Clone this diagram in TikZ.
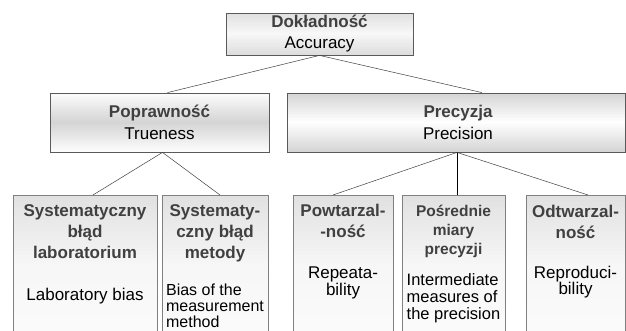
\documentclass[tikz,border=0pt]{standalone}
\usepackage{fontspec}
\setmainfont{Liberation Sans}
\usepackage{tikz}
\usetikzlibrary{calc}
\usetikzlibrary{positioning}

\definecolor{headgray}{HTML}{404040}
\definecolor{edgegray}{HTML}{5A5A5A}
\definecolor{shadegray}{HTML}{D4D4D4}

% vertical gradient in strips: gray amount at top, middle, bottom
\tikzset{
  grad/.style n args={3}{path picture={
    \foreach \k in {0,...,39}{
      \pgfmathsetmacro\ta{\k/40}
      \pgfmathsetmacro\tb{(\k+1.2)/40}
      \pgfmathsetmacro\tm{(\k+0.5)/40}
      \pgfmathsetmacro\pct{\tm<0.5 ? #1+(#2-#1)*2*\tm : #2+(#3-#2)*(2*\tm-1)}
      \fill[shadegray!\pct!white]
        ($(path picture bounding box.north west)!\ta!(path picture bounding box.south west)$)
        rectangle ($(path picture bounding box.north east)!\tb!(path picture bounding box.south east)$);
    }}},
  topbox/.style={rectangle, draw=edgegray, line width=0.8pt, grad={75}{15}{80}},
  midbox/.style={rectangle, draw=edgegray, line width=0.8pt, grad={5}{100}{5}},
  widebox/.style={rectangle, draw=edgegray, line width=0.8pt, grad={100}{0}{100}},
  lowbox/.style={rectangle, draw=gray, line width=0.6pt, grad={70}{20}{10}, anchor=north, minimum height=140pt},
  head/.style={align=center, font=\fontsize{17}{21}\selectfont\bfseries, text=headgray, inner sep=0pt, anchor=north},
  body/.style={align=center, font=\fontsize{17}{16.5}\selectfont, inner sep=0pt, anchor=north},
  link/.style={draw=headgray, line width=0.5pt}
}

\begin{document}
\begin{tikzpicture}[x=1pt, y=-1pt]
\clip (0,0) rectangle (626,331);

\node (Acc) at (319.5,34) [topbox, minimum width=187pt, minimum height=42pt, align=center, inner sep=0pt, font=\fontsize{17}{21}\selectfont]
  {\textbf{\color{headgray}Dokładność}\\Accuracy};

\node (Tru) at (159.5,122.5) [midbox, minimum width=219pt, minimum height=59pt, align=center, inner sep=0pt, font=\fontsize{17}{22}\selectfont]
  {\textbf{\color{headgray}Poprawność}\\Trueness};
\node (Pre) at (456,122.5) [widebox, minimum width=338pt, minimum height=59pt, inner sep=0pt] {};
\node (PreT) at (458,122.5) [align=center, inner sep=0pt, font=\fontsize{17}{22}\selectfont]
  {\textbf{\color{headgray}Precyzja}\\Precision};

% lower row
\node (Lab) at (85,195) [lowbox, minimum width=144pt] {};
\node (Met) at (215,195) [lowbox, minimum width=106pt] {};
\node (Rep) at (343,195) [lowbox, minimum width=100pt] {};
\node (Int) at (453.5,195) [lowbox, minimum width=103pt] {};
\node (Rpr) at (575.5,195) [lowbox, minimum width=99pt] {};

\node (LabH) [head, below=9pt of Lab.north] {Systematyczny\\błąd\\laboratorium};
\node (LabB) [body, below=30pt of LabH.south] {Laboratory bias};

\node (MetH) [head, below=9pt of Met.north] {Systematy-\\czny błąd\\metody};
\node (MetB) [body, align=left, font=\fontsize{16}{16}\selectfont, below=22pt of MetH.south] {Bias of the\\measurement\\method};

\node (RepH) [head, below=9pt of Rep.north] {Powtarzal-\\-ność};
\node (RepB) [body, below=29pt of RepH.south] {Repeata-\\bility};

\node (IntH) [head, font=\fontsize{15.5}{19}\selectfont\bfseries, below=10pt of Int.north] {Pośrednie\\miary\\precyzji};
\node (IntB) [body, align=left, font=\fontsize{16.5}{17}\selectfont, below=15pt of IntH.south] {Intermediate\\measures of\\the precision};

\node (RprH) [head, below=10pt of Rpr.north] {Odtwarzal-\\ność};
\node (RprB) [body, below=27pt of RprH.south] {Reproduci-\\bility};

\draw [link] (Acc.south) -- ([xshift=8pt]Tru.north);
\draw [link] (Acc.south) -- ([xshift=26pt]Pre.north);
\draw [link] ([xshift=3pt]Tru.south) -- ([xshift=8pt]Lab.north);
\draw [link] ([xshift=3pt]Tru.south) -- ([xshift=5pt]Met.north);
\draw [link] ([xshift=1pt]Pre.south) -- ([xshift=-10pt]Rep.north);
\draw [link, draw=black, line width=0.8pt] ([xshift=1pt]Pre.south) -- ([xshift=3.5pt]Int.north);
\draw [link] ([xshift=1pt]Pre.south) -- ([xshift=12.5pt]Rpr.north);
\end{tikzpicture}
\end{document}
